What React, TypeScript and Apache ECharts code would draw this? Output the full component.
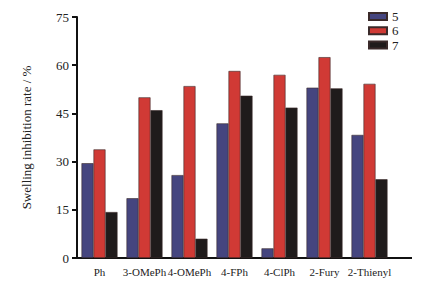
import React, { useEffect, useRef } from "react";
import * as echarts from "echarts";

const categories = ["Ph", "3-OMePh", "4-OMePh", "4-FPh", "4-ClPh", "2-Fury", "2-Thienyl"];
const seriesNames = ["5", "6", "7"];
const values5 = [29.5, 18.6, 25.8, 41.9, 3.0, 53.0, 38.3];
const values6 = [33.8, 50.0, 53.5, 58.2, 57.0, 62.5, 54.2];
const values7 = [14.3, 46.0, 6.0, 50.5, 46.8, 52.8, 24.5];
const colors = ["#45457f", "#d03a35", "#1f1b1b"];
const yTicks = { min: 0, max: 75, interval: 15 };

const FONT = "Liberation Serif, Times New Roman, serif";

export default function App() {
  const ref = useRef<HTMLDivElement>(null);
  useEffect(() => {
    if (!ref.current) return;
    document.body.style.margin = "0";
    const chart = echarts.init(ref.current, undefined, { renderer: "svg" });
    const data = [values5, values6, values7];
    chart.setOption({
      animation: false,
      backgroundColor: "#ffffff",
      textStyle: { fontFamily: FONT },
      grid: { left: 77, right: 35, top: 17, bottom: 26 },
      legend: {
        orient: "vertical",
        left: 363,
        top: 5,
        icon: "rect",
        itemWidth: 18,
        itemHeight: 7,
        itemGap: 1.3,
        textStyle: { fontFamily: FONT, fontSize: 13, lineHeight: 12, color: "#222" },
        data: seriesNames,
      },
      xAxis: {
        type: "category",
        data: categories,
        axisLine: { lineStyle: { color: "#111", width: 2 } },
        axisTick: { alignWithLabel: true, length: 5, lineStyle: { color: "#111", width: 2 } },
        axisLabel: { interval: 0, fontFamily: FONT, fontSize: 11, color: "#222", margin: 8 },
      },
      yAxis: {
        type: "value",
        min: yTicks.min,
        max: yTicks.max,
        interval: yTicks.interval,
        name: "Swelling inhibition rate / %",
        nameLocation: "middle",
        nameGap: 44,
        nameTextStyle: { fontFamily: FONT, fontSize: 13, color: "#222" },
        splitLine: { show: false },
        axisLine: { show: true, lineStyle: { color: "#111", width: 2 } },
        axisTick: { show: true, length: 5, lineStyle: { color: "#111", width: 2 } },
        axisLabel: { fontFamily: FONT, fontSize: 13, color: "#222", margin: 8 },
      },
      graphic: [
        {
          type: "line",
          shape: { x1: 392, y1: 258, x2: 412, y2: 258 },
          style: { stroke: "#111", lineWidth: 2 },
        },
      ],
      series: seriesNames.map((name, i) => ({
        name,
        type: "bar",
        data: data[i],
        barWidth: 12,
        barGap: "0%",
        itemStyle: { color: colors[i], borderColor: "#3a2a2a", borderWidth: 0.6 },
      })),
    });
    return () => chart.dispose();
  }, []);
  return <div ref={ref} style={{ width: 427, height: 284 }} />;
}
